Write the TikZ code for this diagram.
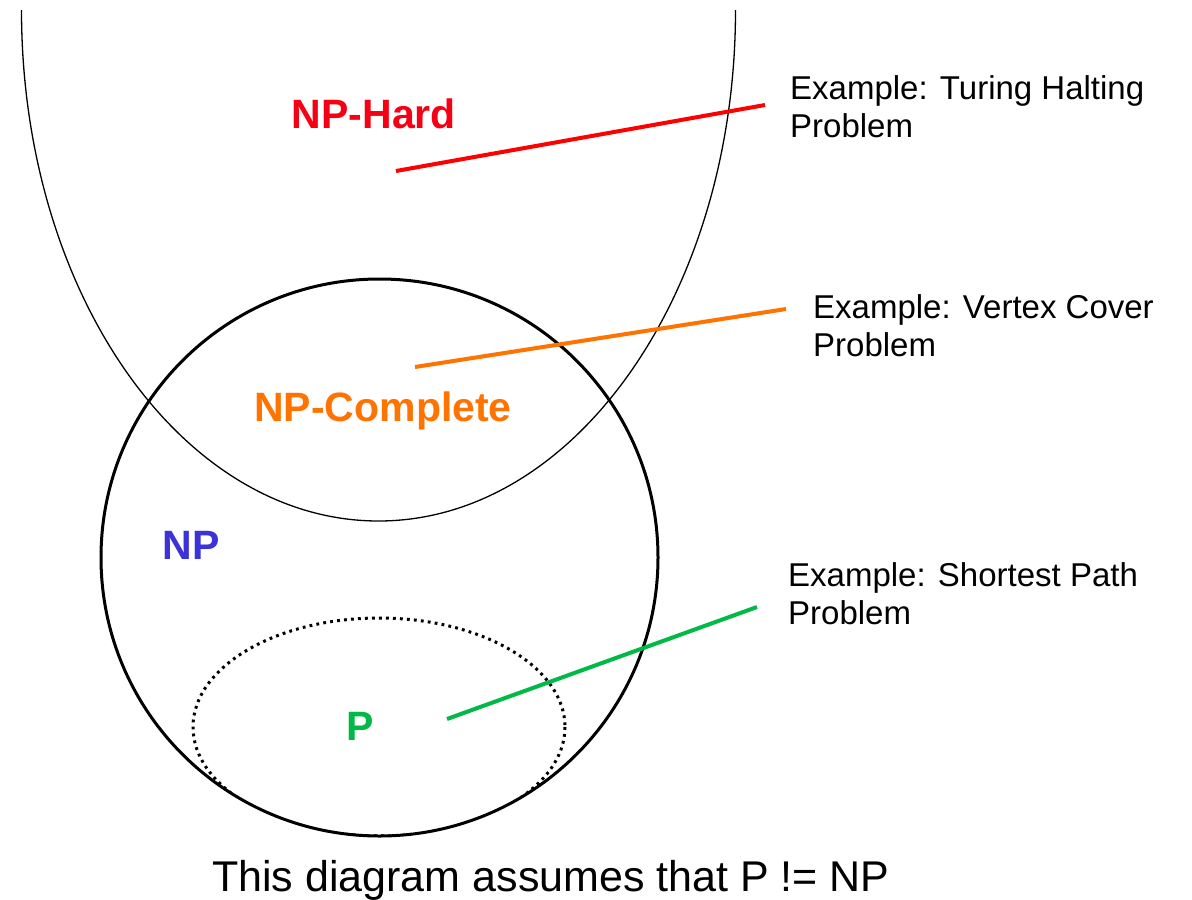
\documentclass[tikz,border=0pt]{standalone}
\usepackage{fontspec}
\setmainfont{Liberation Sans}
\definecolor{hardred}{RGB}{245,0,20}
\definecolor{comporange}{RGB}{255,115,0}
\definecolor{npblue}{RGB}{60,50,215}
\definecolor{pgreen}{RGB}{0,185,70}
\begin{document}
\begin{tikzpicture}[x=1pt,y=-1pt,
  setline/.style={draw=black,line width=1.3pt},
  npline/.style={draw=black,line width=3pt},
  pline/.style={draw=black,line width=3pt,dash pattern=on 2.8pt off 4.2pt},
  classlbl/.style={inner sep=0pt,anchor=base,font=\fontsize{41}{48}\selectfont\bfseries},
  exlbl/.style={inner sep=0pt,anchor=base west,align=left,font=\fontsize{33}{38}\selectfont},
  conn/.style={line width=4pt}]
\useasboundingbox (0,0) rectangle (1192,900);
\fill[white] (0,0) rectangle (1192,900);
% NP-Hard region (U shape)
\begin{scope}
  \clip (0,10) rectangle (1192,900);
  \draw[setline] (378.5,10) ellipse [x radius=357, y radius=511];
\end{scope}
% P region (dotted)
\begin{scope}
  \clip (379.5,557.5) circle [radius=278];
  \draw[pline] (379,727) ellipse [x radius=186, y radius=109];
\end{scope}
% NP circle
\draw[npline] (379.5,557.5) circle [radius=278.5];
% labels
\node[classlbl,text=hardred] (hard) at (374,128) {NP-Hard};
\node[classlbl,text=comporange] (comp) at (383,421) {NP-Complete};
\node[classlbl,text=npblue] (np) at (191,559) {NP};
\node[classlbl,text=pgreen] (p) at (360,740) {P};
% examples (anchor is the baseline of the last line)
\node[exlbl] (exhard) at (790,137) {Example: Turing Halting\\Problem};
\node[exlbl] (excomp) at (813,356) {Example: Vertex Cover\\Problem};
\node[exlbl] (exp) at (788,624) {Example: Shortest Path\\Problem};
% connectors
\coordinate (hardA) at (396,171);
\coordinate (hardB) at (765,105);
\coordinate (compA) at (415,367);
\coordinate (compB) at (786,309);
\coordinate (pA) at (447,719);
\coordinate (pB) at (757,607);
\draw[conn,draw=red] (hardA) -- (hardB);
\draw[conn,draw=comporange] (compA) -- (compB);
\draw[conn,draw=pgreen] (pA) -- (pB);
% caption
\node[inner sep=0pt,anchor=base,font=\fontsize{43}{50}\selectfont] (cap) at (551,891) {This diagram assumes that P != NP};
\end{tikzpicture}
\end{document}
